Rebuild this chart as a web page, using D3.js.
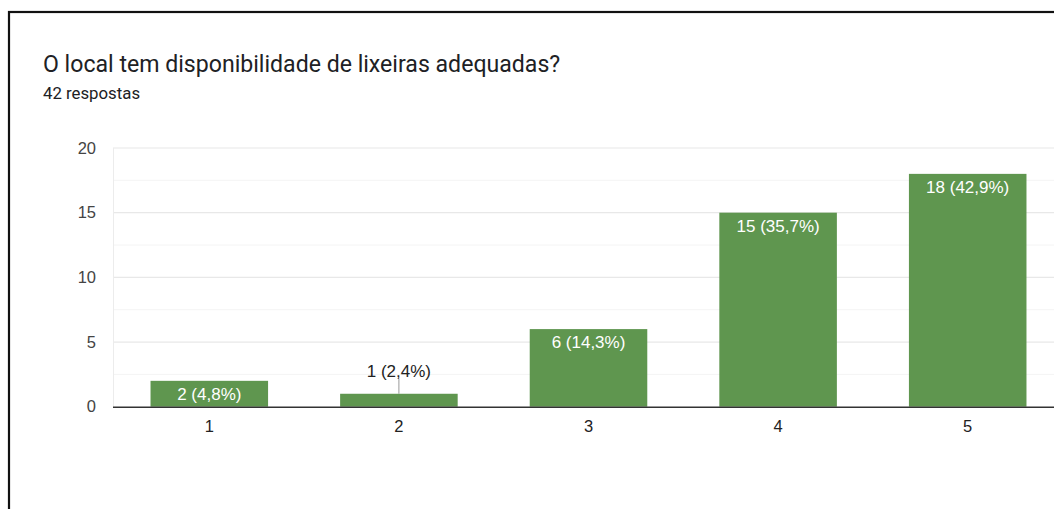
<!DOCTYPE html>
<html><head><meta charset="utf-8">
<script src="https://cdn.jsdelivr.net/npm/d3@7"></script>
<style>
html,body{margin:0;padding:0;background:#fff;}
svg{display:block;}
</style></head>
<body>
<svg id="chart" width="1054" height="509"></svg>
<script>
const title = "O local tem disponibilidade de lixeiras adequadas?";
const subtitle = "42 respostas";
const categories = ["1","2","3","4","5"];
const values = [2,1,6,15,18];
const labels = ["2 (4,8%)","1 (2,4%)","6 (14,3%)","15 (35,7%)","18 (42,9%)"];
const yTicks = [0,5,10,15,20];
const yMinorTicks = [2.5,7.5,12.5,17.5];

const svg = d3.select("#chart");
const W = 1054, H = 509;

// frame
svg.append("rect").attr("x",9).attr("y",12).attr("width",W+20).attr("height",H+20)
  .attr("fill","none").attr("stroke","#111").attr("stroke-width",2.2);

svg.append("text").attr("x",43).attr("y",72).text(title)
  .attr("font-family","Roboto").attr("font-size",23.1).attr("fill","#202124");
svg.append("text").attr("x",43).attr("y",99).text(subtitle)
  .attr("font-family","Roboto").attr("font-size",16.8).attr("fill","#202124");

const x = d3.scaleBand().domain(categories).range([114.5,1062.5]).paddingInner(0.38).paddingOuter(0.19);
const y = d3.scaleLinear().domain([0,20]).range([406.7,148]);

const g = svg.append("g");
g.selectAll("line.minor").data(yMinorTicks).join("line").attr("class","minor")
  .attr("x1",113).attr("x2",W).attr("y1",d=>y(d)).attr("y2",d=>y(d))
  .attr("stroke","#f4f4f4").attr("stroke-width",1);
g.selectAll("line.major").data(yTicks.filter(d=>d>0)).join("line").attr("class","major")
  .attr("x1",113).attr("x2",W).attr("y1",d=>y(d)).attr("y2",d=>y(d))
  .attr("stroke","#e8e8e8").attr("stroke-width",1.2);
g.append("line").attr("x1",113.5).attr("x2",113.5).attr("y1",y(20)).attr("y2",y(0))
  .attr("stroke","#ececec").attr("stroke-width",1);

// y labels via axis
const yAxis = d3.axisLeft(y).tickValues(yTicks).tickSize(0).tickPadding(0);
const ya = svg.append("g").attr("transform","translate(96,0)").call(yAxis);
ya.select(".domain").remove();
ya.selectAll("text").attr("font-family","Liberation Sans, Arial").attr("font-size",16.5).attr("fill","#444");

// bars
g.selectAll("rect.bar").data(values).join("rect").attr("class","bar")
  .attr("x",(d,i)=>x(categories[i])).attr("width",x.bandwidth())
  .attr("y",d=>y(d)).attr("height",d=>y(0)-y(d)).attr("fill","#5f964f");

// baseline
g.append("line").attr("x1",113).attr("x2",W).attr("y1",y(0)+0.5).attr("y2",y(0)+0.5)
  .attr("stroke","#333").attr("stroke-width",1.4);

// x labels
const xAxis = d3.axisBottom(x).tickSize(0).tickPadding(0);
const xa = svg.append("g").attr("transform","translate(0,420)").call(xAxis);
xa.select(".domain").remove();
xa.selectAll("text").attr("font-family","Liberation Sans, Arial").attr("font-size",16.5).attr("fill","#222").attr("dy","0.75em");

// bar labels
values.forEach((v,i)=>{
  const cx = x(categories[i]) + x.bandwidth()/2;
  const inside = (y(0)-y(v)) > 22;
  if (inside) {
    svg.append("text").attr("x",cx).attr("y",y(v)+19).attr("text-anchor","middle")
      .attr("font-family","Liberation Sans, Arial").attr("font-size",17).attr("fill","#fff").text(labels[i]);
  } else {
    svg.append("line").attr("x1",cx).attr("x2",cx).attr("y1",y(v)-15).attr("y2",y(v))
      .attr("stroke","#999").attr("stroke-width",1);
    svg.append("text").attr("x",cx).attr("y",y(v)-17).attr("text-anchor","middle")
      .attr("font-family","Liberation Sans, Arial").attr("font-size",17).attr("fill","#222").text(labels[i]);
  }
});
</script>
</body></html>
